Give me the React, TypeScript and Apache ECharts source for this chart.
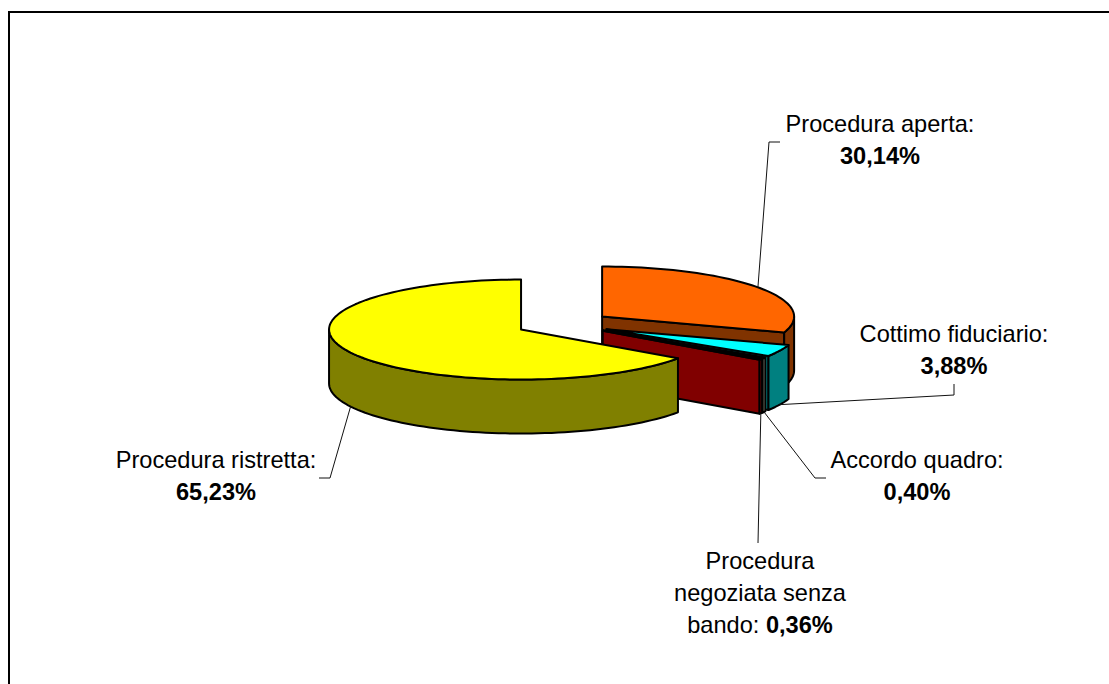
import React, { useEffect, useRef } from "react";
import * as echarts from "echarts";

const categories = ["Procedura aperta", "Cottimo fiduciario", "Accordo quadro", "Procedura negoziata senza bando", "Procedura ristretta"];
const values = [30.14, 3.88, 0.4, 0.36, 65.23];
const topColors = ["#FF6600", "#00FFFF", "#008080", "#800000", "#FFFF00"];
const sideColors = ["#803300", "#008080", "#A0A088", "#800000", "#808000"];
const labelLines = [["Procedura aperta:"], ["Cottimo fiduciario:"], ["Accordo quadro:"], ["Procedura", "negoziata senza", "bando:"], ["Procedura ristretta:"]];
const labelCenters = [[880, 108], [954, 318], [917, 444], [760, 545], [216, 444]];
const leaderBends = [[[769, 142], [780, 142]], [[954, 395], [954, 384]], [[815, 478], [826, 478]], [[758, 543]], [[330, 478], [319, 478]]];

const CX = 563.4, CY = 323.8, RX = 192, RY = 50, DEPTH = 54, EXPLODE = 47.7;
const FONT = "'Liberation Sans', Arial, sans-serif";
const FONT_SIZE = 23.6;
const total = values.reduce((a, b) => a + b, 0);
const toRad = (d: number) => (d * Math.PI) / 180;

function sliceAngles(i: number) {
  let before = 0;
  for (let k = 0; k < i; k++) before += values[k];
  return [(before / total) * 360, ((before + values[i]) / total) * 360];
}
function sliceCenter(i: number) {
  const [a, b] = sliceAngles(i);
  const m = toRad((a + b) / 2);
  return [CX + EXPLODE * Math.sin(m), CY - (EXPLODE * RY * Math.cos(m)) / RX];
}
function rimPoint(c: number[], deg: number, dy = 0) {
  const t = toRad(deg);
  return [c[0] + RX * Math.sin(t), c[1] - RY * Math.cos(t) + dy];
}
function arc(c: number[], from: number, to: number, dy = 0) {
  const n = Math.max(2, Math.ceil(Math.abs(to - from) / 2));
  const pts: number[][] = [];
  for (let j = 0; j <= n; j++) pts.push(rimPoint(c, from + ((to - from) * j) / n, dy));
  return pts;
}

function renderItem(params: any) {
  const i = params.dataIndex;
  const [a, b] = sliceAngles(i);
  const c = sliceCenter(i);
  const line = { stroke: "#000", lineWidth: 2, lineJoin: "round" };
  const children: any[] = [];
  const face = (deg: number) => {
    const p = rimPoint(c, deg);
    children.push({
      type: "polygon",
      shape: { points: [c, p, [p[0], p[1] + DEPTH], [c[0], c[1] + DEPTH]] },
      style: { fill: sideColors[i], ...line },
    });
  };
  if (Math.sin(toRad(a)) < -1e-6) face(a);
  if (Math.sin(toRad(b)) > 1e-6) face(b);
  const from = Math.max(a, 90), to = Math.min(b, 270);
  if (to > from) {
    children.push({
      type: "polygon",
      shape: { points: [...arc(c, from, to), ...arc(c, to, from, DEPTH)] },
      style: { fill: sideColors[i], ...line },
    });
  }
  children.push({
    type: "polygon",
    shape: { points: [c, ...arc(c, a, b)] },
    style: { fill: topColors[i], ...line },
  });
  const mid = (a + b) / 2;
  const front = mid > 90 && mid < 270;
  children.push({
    type: "polyline",
    z2: 5,
    shape: { points: [rimPoint(c, mid, front ? DEPTH : 0), ...leaderBends[i]] },
    style: { fill: "none", stroke: "#111", lineWidth: 1 },
  });
  return { type: "group", children };
}

function labelText(i: number) {
  const pct = values[i].toFixed(2).replace(".", ",") + "%";
  const lines = labelLines[i];
  if (lines.length === 1) return `{n|${lines[0]}}\n{b|${pct}}`;
  const head = lines.slice(0, -1).map((l) => `{n|${l}}`).join("\n");
  return `${head}\n{n|${lines[lines.length - 1]} }{b|${pct}}`;
}

export default function App() {
  const ref = useRef<HTMLDivElement>(null);
  useEffect(() => {
    document.body.style.margin = "0";
    document.body.style.overflow = "hidden";
    const chart = echarts.init(ref.current!, undefined, { renderer: "svg" });
    chart.setOption({
      animation: false,
      backgroundColor: "#fff",
      series: [
        {
          type: "custom",
          coordinateSystem: "none",
          silent: true,
          data: values.map((v, i) => ({ name: categories[i], value: v })),
          renderItem,
        },
      ],
      graphic: [
        {
          type: "polyline",
          shape: { points: [[9, 684], [9, 12], [1109, 12]] },
          style: { fill: "none", stroke: "#000", lineWidth: 2 },
        },
        ...categories.map((_, i) => ({
          type: "text",
          x: labelCenters[i][0],
          y: labelCenters[i][1],
          z: 10,
          style: {
            text: labelText(i),
            align: "center",
            verticalAlign: "top",
            fill: "#000",
            rich: {
              n: { fontFamily: FONT, fontSize: FONT_SIZE, lineHeight: 32, fill: "#000", align: "center" },
              b: { fontFamily: FONT, fontSize: FONT_SIZE, fontWeight: "bold", lineHeight: 32, fill: "#000", align: "center" },
            },
          },
        })),
      ],
    });
    return () => chart.dispose();
  }, []);
  return <div ref={ref} style={{ position: "absolute", left: 0, top: 0, width: 1109, height: 684 }} />;
}
